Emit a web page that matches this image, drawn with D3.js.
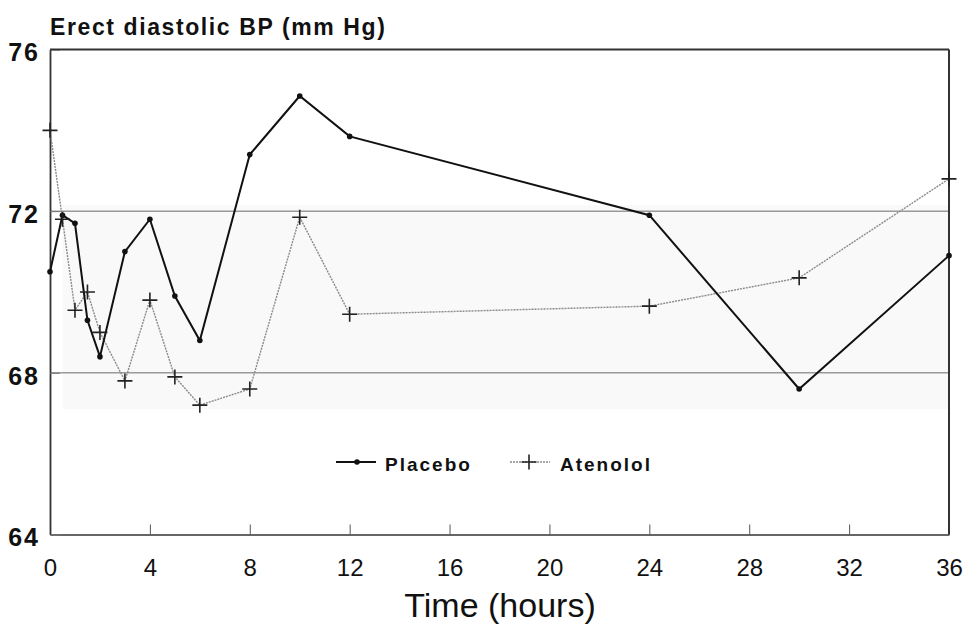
<!DOCTYPE html>
<html>
<head>
<meta charset="utf-8">
<script src="https://cdn.jsdelivr.net/npm/d3@7"></script>
<style>
  body { margin: 0; background: #fff; }
  svg { display: block; font-family: "Liberation Sans", Arial, sans-serif; }
</style>
</head>
<body>
<svg id="chart" width="968" height="625"></svg>
<script>
// data
const hours = [0, 0.5, 1, 1.5, 2, 3, 4, 5, 6, 8, 10, 12, 24, 30, 36];
const placebo = [70.5, 71.9, 71.7, 69.3, 68.4, 71.0, 71.8, 69.9, 68.8, 73.4, 74.85, 73.85, 71.9, 67.6, 70.9];
const atenolol = [74.0, 71.8, 69.55, 70.0, 69.0, 67.8, 69.8, 67.9, 67.2, 67.6, 71.85, 69.45, 69.65, 70.35, 72.8];
const xTicks = [0, 4, 8, 12, 16, 20, 24, 28, 32, 36];
const yTicks = [64, 68, 72, 76];
const gridValues = [68, 72];

const svg = d3.select("#chart");

const x = d3.scaleLinear().domain([0, 36]).range([50, 949]);
const y = d3.scaleLinear().domain([64, 76]).range([534.5, 49.5]);

// faint scan shading behind the middle band
svg.append("rect")
  .attr("x", x(0.5)).attr("y", y(72.15))
  .attr("width", x(36) - x(0.5)).attr("height", y(67.1) - y(72.15))
  .attr("fill", "#f9f9f9");

// horizontal reference lines
svg.append("g")
  .selectAll("line")
  .data(gridValues)
  .enter()
  .append("line")
  .attr("x1", x(0)).attr("x2", x(36))
  .attr("y1", d => y(d)).attr("y2", d => y(d))
  .attr("stroke", "#9a9a9a")
  .attr("stroke-width", 1.5);

// x axis
const xAxis = svg.append("g")
  .attr("transform", `translate(0,${y(64)})`)
  .call(d3.axisBottom(x).tickValues(xTicks).tickSize(-10).tickPadding(24).tickSizeOuter(0));
xAxis.select(".domain").attr("stroke", "#666").attr("stroke-width", 2);
xAxis.selectAll(".tick line").attr("stroke", "#555").attr("stroke-width", 1);
xAxis.selectAll("text")
  .attr("fill", "#111")
  .style("font-size", "24px");

// y axis
const yAxis = svg.append("g")
  .attr("transform", `translate(${x(0)},0)`)
  .call(d3.axisLeft(y).tickValues(yTicks).tickSize(-10).tickPadding(10).tickSizeOuter(0));
yAxis.select(".domain").attr("stroke", "#333").attr("stroke-width", 1.8);
yAxis.selectAll(".tick line").attr("stroke", "#777");
yAxis.selectAll("text")
  .attr("fill", "#111")
  .attr("dy", "0.45em")
  .style("font-size", "25px")
  .style("font-weight", "bold")
  .style("letter-spacing", "2px");

// top and right frame
svg.append("line")
  .attr("x1", x(0)).attr("x2", x(36))
  .attr("y1", y(76)).attr("y2", y(76))
  .attr("stroke", "#333").attr("stroke-width", 1.8);
svg.append("line")
  .attr("x1", x(36)).attr("x2", x(36))
  .attr("y1", y(76)).attr("y2", y(64))
  .attr("stroke", "#333").attr("stroke-width", 2);

// series
const line = d3.line()
  .x((d, i) => x(hours[i]))
  .y(d => y(d));

svg.append("path")
  .datum(atenolol)
  .attr("fill", "none")
  .attr("stroke", "#8a8a8a")
  .attr("stroke-width", 1.4)
  .attr("stroke-dasharray", "2,1")
  .attr("d", line);

svg.append("path")
  .datum(placebo)
  .attr("fill", "none")
  .attr("stroke", "#111")
  .attr("stroke-width", 2)
  .attr("d", line);

svg.append("g")
  .selectAll("circle")
  .data(placebo)
  .enter()
  .append("circle")
  .attr("cx", (d, i) => x(hours[i]))
  .attr("cy", d => y(d))
  .attr("r", 2.8)
  .attr("fill", "#111");

const plus = s => `M${-s},0H${s}M0,${-s}V${s}`;
svg.append("g")
  .selectAll("path")
  .data(atenolol)
  .enter()
  .append("path")
  .attr("transform", (d, i) => `translate(${x(hours[i])},${y(d)})`)
  .attr("d", plus(7.5))
  .attr("stroke", "#222")
  .attr("stroke-width", 1.6)
  .attr("fill", "none");

// legend
const legend = svg.append("g").attr("transform", "translate(336,462)");
legend.append("line").attr("x1", 0).attr("x2", 40).attr("stroke", "#111").attr("stroke-width", 2);
legend.append("circle").attr("cx", 21).attr("r", 2.8).attr("fill", "#111");
legend.append("text").attr("x", 49).attr("y", 9)
  .style("font-size", "19px").style("font-weight", "bold").style("letter-spacing", "2px")
  .attr("fill", "#111").text("Placebo");
legend.append("line").attr("x1", 174).attr("x2", 214).attr("stroke", "#8a8a8a")
  .attr("stroke-width", 1.4).attr("stroke-dasharray", "2,1");
legend.append("path").attr("transform", "translate(193,0)").attr("d", plus(7.5))
  .attr("stroke", "#222").attr("stroke-width", 1.6);
legend.append("text").attr("x", 224).attr("y", 9)
  .style("font-size", "19px").style("font-weight", "bold").style("letter-spacing", "2px")
  .attr("fill", "#111").text("Atenolol");

// titles
svg.append("text")
  .attr("x", 50).attr("y", 35)
  .style("font-size", "23px").style("font-weight", "bold").style("letter-spacing", "1.6px")
  .attr("fill", "#111")
  .text("Erect diastolic BP (mm Hg)");

svg.append("text")
  .attr("x", 500).attr("y", 617)
  .attr("text-anchor", "middle")
  .style("font-size", "34px")
  .attr("fill", "#111")
  .text("Time (hours)");
</script>
</body>
</html>
